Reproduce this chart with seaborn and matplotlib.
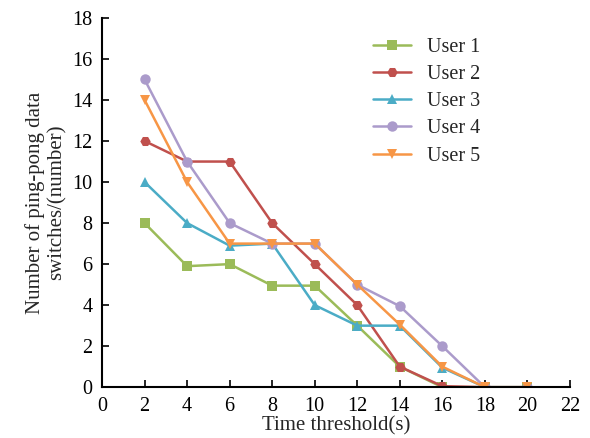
import matplotlib
matplotlib.use("Agg")
import matplotlib.pyplot as plt
import seaborn as sns
import pandas as pd

x = [2, 4, 6, 8, 10, 12, 14, 16, 18, 20]
user1 = [8, 5.9, 6, 4.95, 4.95, 3, 1, 0, 0, 0]
user2 = [12, 11, 11, 8, 6, 4, 1, 0.05, 0, 0]
user3 = [10, 8, 6.9, 7, 4, 3, 3, 0.95, 0, 0]
user4 = [15, 11, 8, 7, 7, 5, 3.95, 2, 0, 0]
user5 = [14, 10, 7, 7, 7, 5, 3.05, 1, 0, 0]
names = ["User 1", "User 2", "User 3", "User 4", "User 5"]
colors = ["#9BBB59", "#C0504D", "#4BACC6", "#AB9BCB", "#F79646"]
markers = ["s", "H", "^", "o", "v"]

sns.set_style("ticks")
plt.rcParams["font.family"] = ["Liberation Serif", "DejaVu Serif"]

rows = []
for n, ys in zip(names, [user1, user2, user3, user4, user5]):
    for xi, yi in zip(x, ys):
        rows.append({"x": xi, "y": yi, "user": n})
df = pd.DataFrame(rows)

fig = plt.figure(figsize=(5.9, 4.38), dpi=100)
ax = fig.add_axes([0.173, 0.116, 0.793, 0.843])
sns.lineplot(data=df, x="x", y="y", hue="user", style="user",
             palette=colors, markers=markers, dashes=False,
             markersize=7.5, linewidth=1.8, markeredgewidth=0, ax=ax)

ax.set_xlim(0, 22)
ax.set_ylim(0, 18)
ax.set_xticks(range(0, 23, 2))
ax.set_yticks(range(0, 19, 2))
ax.tick_params(direction="in", length=5, width=1.2, labelsize=14.5, colors="black", pad=7)
for s in ["left", "bottom"]:
    ax.spines[s].set_linewidth(1.5)
    ax.spines[s].set_color("black")
sns.despine(ax=ax)
ax.set_xlabel("Time threshold(s)", fontsize=15, labelpad=0)
ax.set_ylabel("Number of ping-pong data\nswitches/(number)", fontsize=15,
              linespacing=1.15, labelpad=4)

leg = ax.legend(loc="upper left", bbox_to_anchor=(0.541, 0.995), frameon=False,
                fontsize=14.5, labelspacing=0.4, handlelength=1.85, handletextpad=0.8)

fig.savefig("out.png", dpi=100)
